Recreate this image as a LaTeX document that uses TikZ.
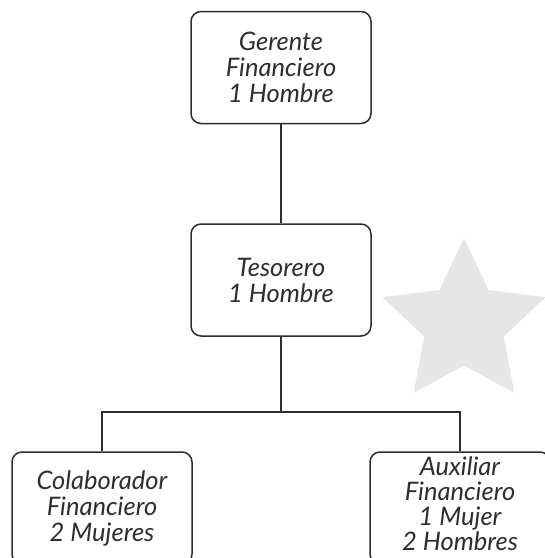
\documentclass[tikz,border=0pt]{standalone}
\usepackage{fontspec}
\setmainfont{Lato}
\usetikzlibrary{positioning}
\definecolor{ink}{HTML}{2E2E2E}
\definecolor{starc}{HTML}{E6E6E7}
\tikzset{
  orgbox/.style={draw=ink, line width=1.5pt, rounded corners=10pt, fill=white,
    minimum width=180pt, minimum height=112pt, inner sep=0pt,
    align=center, text=ink, font=\fontsize{25.5}{26}\selectfont\itshape},
  boxtext/.style={inner sep=0pt, align=center, text=ink,
    font=\fontsize{25.5}{25}\selectfont\itshape},
  link/.style={draw=ink, line width=1.1pt}
}
\begin{document}
\begin{tikzpicture}[x=1pt,y=-1pt]
\useasboundingbox (0,0) rectangle (545,558);
\clip (0,0) rectangle (545,558);
% star
\fill[starc] (464,238) -- (488.5,290) -- (545.5,297.2) -- (503.8,336.6) -- (514.4,393) -- (464,365.5) -- (413.6,393) -- (424.2,336.6) -- (382.5,297.2) -- (439.5,290) -- cycle;
\node[orgbox] (ger) at (281,67.5) {Gerente\\Financiero\\1 Hombre};
\node[orgbox] (tes) at (281,280) {Tesorero\\1 Hombre};
\node[orgbox] (col) at (102,508) {Colaborador\\Financiero\\2 Mujeres};
\node[orgbox] (aux) at (460,508) {};
\node[boxtext] (auxt) at ([yshift=4pt]aux.center) {Auxiliar\\Financiero\\1 Mujer\\2 Hombres};
\coordinate (jn) at (281,412);
\draw[link] (ger.south) -- (tes.north);
\draw[link] (tes.south) -- (jn);
\draw[link] (jn) -| (col.north);
\draw[link] (jn) -| (aux.north);
\end{tikzpicture}
\end{document}
